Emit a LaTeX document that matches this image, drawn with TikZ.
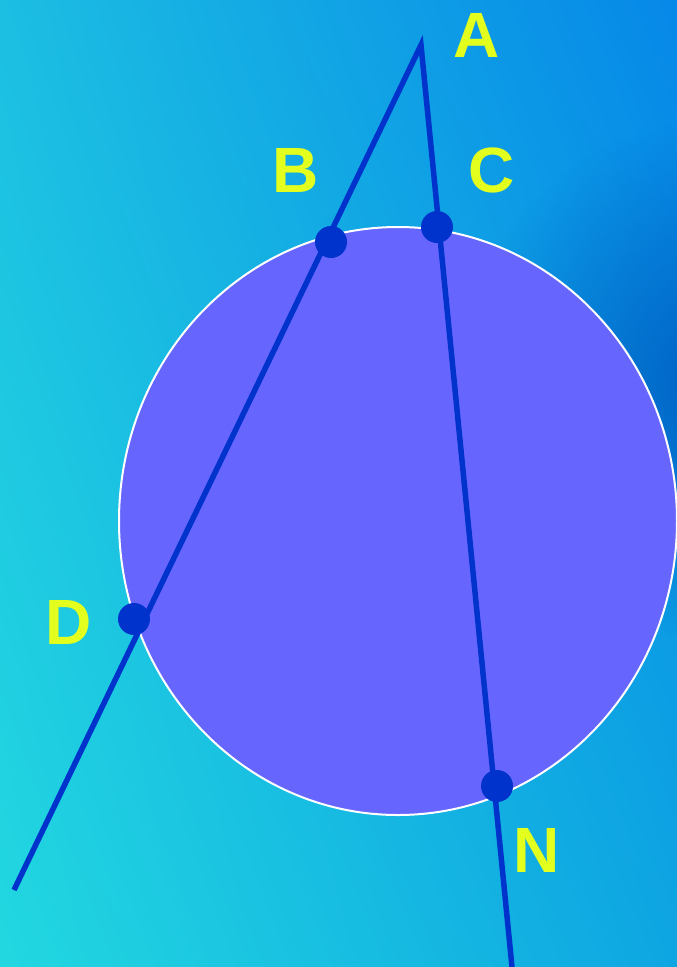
\documentclass[tikz,border=0pt]{standalone}
\usepackage{fontspec}
\setmainfont{Liberation Sans}
\usepackage{xcolor}
\usetikzlibrary{fadings,shadings}
\definecolor{linecol}{HTML}{0033CC}
\definecolor{circcol}{HTML}{6666FF}
\definecolor{lblcol}{HTML}{E2FF1E}
\definecolor{bgul}{RGB}{28,190,226}
\definecolor{bgur}{RGB}{6,136,232}
\definecolor{bgll}{RGB}{34,216,224}
\definecolor{bglr}{RGB}{14,166,226}
\definecolor{bgdark}{RGB}{0,96,196}
\tikzfading[name=spotfade,inner color=transparent!0,outer color=transparent!100]

\begin{document}
\begin{tikzpicture}[x=1pt,y=-1pt,
    dot/.style={circle,fill=linecol,minimum size=32pt,inner sep=0pt},
    lbl/.style={text=lblcol,font=\fontsize{64}{70}\selectfont\bfseries,inner sep=0pt},
    ln/.style={linecol,line width=5.5pt}
  ]
    \useasboundingbox (0,0) rectangle (677,967);
    \clip (0,0) rectangle (677,967);
    % background
    \shade[upper left=bgul,upper right=bgur,lower left=bgll,lower right=bglr]
      (0,0) rectangle (677,967);
    \fill[bgdark,path fading=spotfade] (720,380) circle (260);
    % circle
    \draw[white,line width=2pt,fill=circcol] (398,521) ellipse (279 and 294);
    % lines
    \coordinate (A) at (421,45);
    \coordinate (e1) at (14,890);
    \coordinate (e2) at (512,967);
    \draw[ln] (e1) -- (A) -- (e2);
    % points
    \node[dot] (B) at (331,242) {};
    \node[dot] (C) at (437,227) {};
    \node[dot] (D) at (134,619) {};
    \node[dot] (N) at (497,786) {};
    % labels
    \node[lbl] (lA) at (477,35) {A};
    \node[lbl] (lB) at (296,170) {B};
    \node[lbl] (lC) at (492,170) {C};
    \node[lbl] (lD) at (69,622) {D};
    \node[lbl] (lN) at (537,850) {N};
  \end{tikzpicture}
\end{document}
